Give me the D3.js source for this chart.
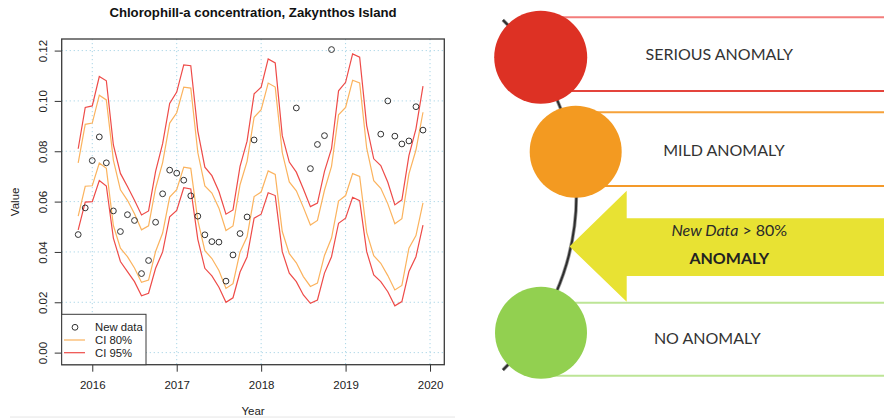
<!DOCTYPE html>
<html>
<head>
<meta charset="utf-8">
<script src="https://cdn.jsdelivr.net/npm/d3@7"></script>
<style>
  html, body { margin: 0; padding: 0; background: #fff; }
  svg { display: block; }
</style>
</head>
<body>
<svg id="chart" width="884" height="418"></svg>
<script>
// Monthly forecast band: Nov 2015 – Dec 2019
const bandMonths = [
  "2015-11","2015-12",
  "2016-01","2016-02","2016-03","2016-04","2016-05","2016-06","2016-07","2016-08","2016-09","2016-10","2016-11","2016-12",
  "2017-01","2017-02","2017-03","2017-04","2017-05","2017-06","2017-07","2017-08","2017-09","2017-10","2017-11","2017-12",
  "2018-01","2018-02","2018-03","2018-04","2018-05","2018-06","2018-07","2018-08","2018-09","2018-10","2018-11","2018-12",
  "2019-01","2019-02","2019-03","2019-04","2019-05","2019-06","2019-07","2019-08","2019-09","2019-10","2019-11","2019-12"
];
const ci95Upper = [0.0810,0.0974,0.0980,0.1097,0.1080,0.0825,0.0712,0.0660,0.0605,0.0547,0.0563,0.0720,0.0830,0.0990,0.1035,0.1143,0.1140,0.0880,0.0737,0.0703,0.0640,0.0550,0.0567,0.0740,0.0840,0.1028,0.1055,0.1167,0.1151,0.0862,0.0757,0.0717,0.0650,0.0580,0.0594,0.0720,0.0810,0.1040,0.1074,0.1187,0.1174,0.0902,0.0770,0.0743,0.0677,0.0587,0.0607,0.0783,0.0889,0.1059];
const ci80Upper = [0.0754,0.0907,0.0912,0.1023,0.1004,0.0765,0.0647,0.0605,0.0552,0.0488,0.0504,0.0653,0.0755,0.0912,0.0953,0.1055,0.1051,0.0795,0.0662,0.0634,0.0574,0.0485,0.0503,0.0667,0.0760,0.0935,0.0965,0.1071,0.1055,0.0795,0.0678,0.0643,0.0577,0.0507,0.0525,0.0645,0.0740,0.0945,0.0974,0.1082,0.1071,0.0812,0.0683,0.0653,0.0591,0.0512,0.0532,0.0710,0.0805,0.0955];
const ci80Lower = [0.0542,0.0661,0.0663,0.0753,0.0732,0.0505,0.0415,0.0381,0.0336,0.0279,0.0288,0.0402,0.0475,0.0618,0.0647,0.0737,0.0732,0.0525,0.0405,0.0374,0.0326,0.0255,0.0274,0.0400,0.0460,0.0620,0.0638,0.0722,0.0708,0.0481,0.0393,0.0357,0.0302,0.0263,0.0276,0.0386,0.0455,0.0602,0.0624,0.0711,0.0700,0.0478,0.0385,0.0355,0.0306,0.0249,0.0267,0.0415,0.0465,0.0595];
const ci95Lower = [0.0488,0.0598,0.0600,0.0684,0.0662,0.0455,0.0362,0.0322,0.0282,0.0226,0.0236,0.0335,0.0400,0.0540,0.0565,0.0655,0.0650,0.0450,0.0335,0.0305,0.0260,0.0200,0.0218,0.0320,0.0380,0.0534,0.0550,0.0635,0.0624,0.0401,0.0316,0.0282,0.0229,0.0196,0.0209,0.0316,0.0381,0.0514,0.0534,0.0617,0.0604,0.0401,0.0309,0.0282,0.0242,0.0186,0.0203,0.0322,0.0381,0.0507];

// Observed chlorophyll-a values
const obsMonths = [
  "2015-11","2015-12","2016-01","2016-02","2016-03","2016-04","2016-05","2016-06","2016-07","2016-08","2016-09","2016-10",
  "2016-11","2016-12","2017-01","2017-02","2017-03","2017-04","2017-05","2017-06","2017-07","2017-08","2017-09","2017-10",
  "2017-11","2017-12","2018-06","2018-08","2018-09","2018-10","2018-11",
  "2019-06","2019-07","2019-08","2019-09","2019-10","2019-11","2019-12"
];
const obsValues = [
  0.0469,0.0575,0.0763,0.0857,0.0754,0.0563,0.0481,0.0548,0.0525,0.0314,0.0366,0.0518,
  0.0631,0.0725,0.0713,0.0685,0.0623,0.0542,0.0468,0.0441,0.0439,0.0284,0.0388,0.0473,
  0.0539,0.0845,0.0972,0.0731,0.0827,0.0862,0.1204,
  0.0868,0.1000,0.0860,0.0829,0.0841,0.0977,0.0884
];

const yearTicks = [2016, 2017, 2018, 2019, 2020];
const valueTicks = [0, 0.02, 0.04, 0.06, 0.08, 0.10, 0.12];
const legendLabels = ["New data", "CI 80%", "CI 95%"];
const chartTitle = "Chlorophill-a concentration, Zakynthos Island";

// Anomaly levels for the traffic-light scheme
const levelLabels = ["SERIOUS ANOMALY", "MILD ANOMALY", "NO ANOMALY"];
const levelColors = ["#dd3124", "#f39a21", "#92d050"];
const arrowLine1 = ["New Data", " > 80%"];
const arrowLine2 = "ANOMALY";

const RED = "#ee4b48", ORANGE = "#fbb35e";

const toYear = s => { const [yy, mm] = s.split("-").map(Number); return yy + (mm - 1) / 12; };

const svg = d3.select("#chart");
const FONT = "'Liberation Sans', Arial, Helvetica, sans-serif";

// faint strip along the bottom edge of the chart image
svg.append("rect").attr("x", 10).attr("y", 416.2).attr("width", 445).attr("height", 2).attr("fill", "#f1f1f1");

// Plot region
const L = 61.7, R = 444.3, T = 39, B = 364.7;
const x = d3.scaleLinear().domain([2015.638, 2020.169]).range([L, R]);
const y = d3.scaleLinear().domain([-0.0048, 0.1246]).range([B, T]);

const g = svg.append("g");

// Grid
const gridStyle = s => s.attr("stroke", "#a9d5e6").attr("stroke-width", 1).attr("stroke-dasharray", "1.2,2.8");
g.append("g").selectAll("line").data(yearTicks).join("line")
  .attr("x1", d => x(d)).attr("x2", d => x(d)).attr("y1", T).attr("y2", B).call(gridStyle);
g.append("g").selectAll("line").data(valueTicks).join("line")
  .attr("x1", L).attr("x2", R).attr("y1", d => y(d)).attr("y2", d => y(d)).call(gridStyle);

// Interval lines
const band = bandMonths.map(toYear);
const line = d3.line().x((d, i) => x(band[i])).y(d => y(d));
[[ci95Upper, RED], [ci80Upper, ORANGE], [ci80Lower, ORANGE], [ci95Lower, RED]].forEach(([vals, col]) => {
  g.append("path").attr("d", line(vals)).attr("fill", "none")
    .attr("stroke", col).attr("stroke-width", 1.2);
});

// Observations
g.append("g").selectAll("circle").data(obsValues).join("circle")
  .attr("cx", (d, i) => x(toYear(obsMonths[i]))).attr("cy", d => y(d)).attr("r", 2.9)
  .attr("fill", "none").attr("stroke", "#333").attr("stroke-width", 1);

// Axes
const yAxis = g.append("g").attr("transform", `translate(${L},0)`)
  .call(d3.axisLeft(y).tickValues(valueTicks).tickFormat(d3.format(".2f")).tickSize(7).tickPadding(0));
yAxis.select(".domain").remove();
yAxis.selectAll(".tick line").attr("stroke", "#333");
yAxis.selectAll(".tick text")
  .attr("transform", "rotate(-90)").attr("x", 0).attr("y", -15).attr("dy", 0)
  .attr("text-anchor", "middle").attr("fill", "#222")
  .style("font-family", FONT).style("font-size", "11.5px");

const xAxis = g.append("g").attr("transform", `translate(0,${B})`)
  .call(d3.axisBottom(x).tickValues(yearTicks).tickFormat(d3.format("d")).tickSize(7));
xAxis.select(".domain").remove();
xAxis.selectAll(".tick line").attr("stroke", "#333");
xAxis.selectAll(".tick text").attr("y", 24.3).attr("dy", 0).attr("fill", "#222")
  .style("font-family", FONT).style("font-size", "11.5px");

// Frame
g.append("rect").attr("x", L).attr("y", T).attr("width", R - L).attr("height", B - T)
  .attr("fill", "none").attr("stroke", "#3a3a3a").attr("stroke-width", 1.3);

// Titles
svg.append("text").attr("x", (L + R) / 2).attr("y", 16.9).attr("text-anchor", "middle")
  .style("font-family", FONT).style("font-size", "13.2px").style("font-weight", "bold")
  .attr("fill", "#111").text(chartTitle);
svg.append("text").attr("x", (L + R) / 2).attr("y", 414.5).attr("text-anchor", "middle")
  .style("font-family", FONT).style("font-size", "11.5px").attr("fill", "#222").text("Year");
svg.append("text").attr("transform", `translate(19,${(T + B) / 2}) rotate(-90)`).attr("text-anchor", "middle")
  .style("font-family", FONT).style("font-size", "11.5px").attr("fill", "#222").text("Value");

// Legend
const lg = svg.append("g");
lg.append("rect").attr("x", L).attr("y", 314.3).attr("width", 146 - L).attr("height", B - 314.3)
  .attr("fill", "#fff").attr("stroke", "#3a3a3a").attr("stroke-width", 1);
const rowsY = [327.3, 340, 352.7];
lg.append("circle").attr("cx", 75).attr("cy", rowsY[0]).attr("r", 2.9)
  .attr("fill", "none").attr("stroke", "#333").attr("stroke-width", 1);
[[rowsY[1], ORANGE], [rowsY[2], RED]].forEach(([yy, col]) => {
  lg.append("line").attr("x1", 64).attr("x2", 85).attr("y1", yy).attr("y2", yy)
    .attr("stroke", col).attr("stroke-width", 1.2);
});
lg.selectAll("text").data(legendLabels).join("text")
  .attr("x", 95).attr("y", (d, i) => rowsY[i] + 4)
  .style("font-family", FONT).style("font-size", "11.3px").attr("fill", "#222").text(d => d);

// ---------- Traffic-light anomaly scheme ----------
const rp = svg.append("g");
const TFONT = "Lato, 'Open Sans', sans-serif";
const circles = [
  { cx: 540.7, cy: 57.3, r: 46.5 },
  { cx: 575.7, cy: 151.7, r: 46 },
  { cx: 541, cy: 332.7, r: 46 }
];
const bands = [
  { top: 17.3, bottom: 91, topCol: "#f37d7b", botCol: "#e4443c" },
  { top: 112.3, bottom: 186, topCol: "#f6a23a", botCol: "#f49a2a" },
  { top: 302.7, bottom: 375.7, topCol: "#bde596", botCol: "#bde596" }
];
bands.forEach((b, i) => {
  rp.append("line").attr("x1", circles[i].cx).attr("x2", 884).attr("y1", b.top).attr("y2", b.top)
    .attr("stroke", b.topCol).attr("stroke-width", 2);
  rp.append("line").attr("x1", circles[i].cx).attr("x2", 884).attr("y1", b.bottom).attr("y2", b.bottom)
    .attr("stroke", b.botCol).attr("stroke-width", 2);
});

// connecting arc
const p = d3.path();
p.arc(331.4, 195, 245, -0.7954, 0.7954);
rp.append("path").attr("d", p.toString()).attr("fill", "none")
  .attr("stroke", "#9a9a9a").attr("stroke-width", 3.6);
rp.append("path").attr("d", p.toString()).attr("fill", "none")
  .attr("stroke", "#2e2e2e").attr("stroke-width", 2);

// yellow arrow
const arrowPts = [[569.5, 246.5], [626.7, 190.7], [626.7, 218.3], [884, 218.3], [884, 276], [626.7, 276], [626.7, 301.7]];
rp.append("path").attr("d", d3.line()(arrowPts) + "Z").attr("fill", "#e8e233");

rp.selectAll("circle").data(circles).join("circle")
  .attr("cx", d => d.cx).attr("cy", d => d.cy).attr("r", d => d.r)
  .attr("fill", (d, i) => levelColors[i]);

const labelPos = [[719.3, 60], [724, 155.7], [707.3, 344]];
rp.selectAll("text.level").data(levelLabels).join("text").attr("class", "level")
  .attr("x", (d, i) => labelPos[i][0]).attr("y", (d, i) => labelPos[i][1])
  .attr("text-anchor", "middle").style("font-family", TFONT).style("font-size", "16px")
  .attr("fill", "#333").text(d => d);

const t1 = rp.append("text").attr("x", 729.3).attr("y", 236).attr("text-anchor", "middle")
  .style("font-family", TFONT).style("font-size", "16px").attr("fill", "#2a2a2a");
t1.append("tspan").style("font-style", "italic").text(arrowLine1[0]);
t1.append("tspan").text(arrowLine1[1]);
rp.append("text").attr("x", 729.3).attr("y", 264).attr("text-anchor", "middle")
  .style("font-family", TFONT).style("font-size", "16px").style("font-weight", "bold")
  .attr("fill", "#222").text(arrowLine2);
</script>
</body>
</html>
